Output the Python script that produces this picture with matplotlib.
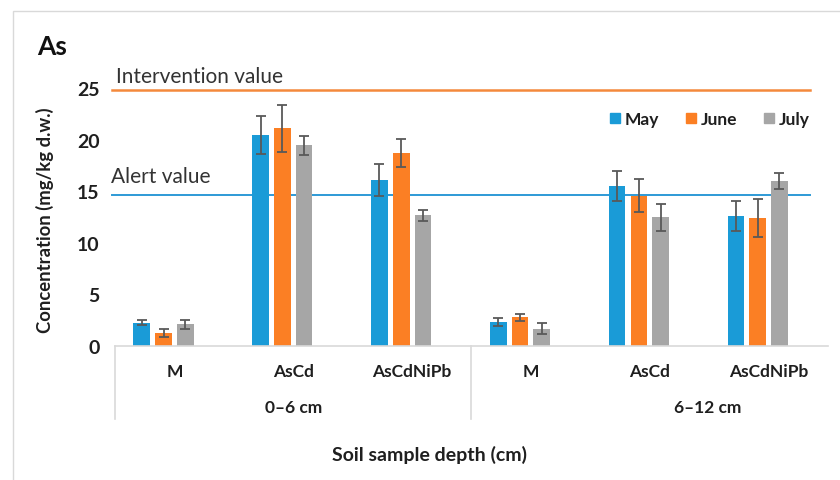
import matplotlib
matplotlib.use("Agg")
import matplotlib.pyplot as plt
from matplotlib.lines import Line2D
from matplotlib.patches import Rectangle
import numpy as np

plt.rcParams["font.family"] = ["Lato", "DejaVu Sans"]

# data
treatments = ["M", "AsCd", "AsCdNiPb", "M", "AsCd", "AsCdNiPb"]
depths = ["0\u20136 cm", "6\u201312 cm"]
months = ["May", "June", "July"]

may = [2.2, 20.5, 16.1, 2.3, 15.5, 12.6]
may_err = [0.25, 1.85, 1.55, 0.38, 1.5, 1.45]
june = [1.2, 21.1, 18.7, 2.75, 14.55, 12.35]
june_err = [0.37, 2.25, 1.37, 0.33, 1.6, 1.85]
july = [2.05, 19.45, 12.65, 1.65, 12.45, 16.0]
july_err = [0.42, 0.9, 0.55, 0.55, 1.3, 0.8]

alert_value = 14.6
intervention_value = 24.85

colors = ["#1a9bd7", "#fb7f24", "#a6a6a6"]
text_color = "#1f1f1f"

fig = plt.figure(figsize=(8.4, 4.81), dpi=100)
ax = fig.add_axes([0.1369, 0.2796, 0.8488, 0.5347])

x = np.arange(len(treatments))
step = 0.183
width = 0.14
# Excel-style cluster with an empty 4th slot, so bars sit left of the label
offsets = [-1.5 * step, -0.5 * step, 0.5 * step]
series = [(may, may_err), (june, june_err), (july, july_err)]
for (vals, errs), off, color, name in zip(series, offsets, colors, months):
    ax.bar(x + off, vals, width, color=color, label=name, zorder=2)
    ax.errorbar(x + off, vals, yerr=errs, fmt="none", ecolor="#595959",
                elinewidth=1.3, capsize=3.3, capthick=1.3, zorder=3)

ax.set_xlim(-0.5, len(treatments) - 0.5)
ax.set_ylim(0, 25)
ax.set_yticks([0, 5, 10, 15, 20, 25])
ax.tick_params(axis="y", length=0, pad=11, labelsize=14, labelcolor=text_color)
for lab in ax.get_yticklabels():
    lab.set_fontweight("bold")
ax.set_xticks([])
for side in ["left", "right", "top"]:
    ax.spines[side].set_visible(False)
ax.spines["bottom"].set_color("#d9d9d9")
ax.spines["bottom"].set_linewidth(1.2)

# reference lines
ax.axhline(intervention_value, xmin=-0.004, xmax=0.975, color="#f4893c",
           linewidth=1.8, clip_on=False, zorder=1)
ax.axhline(alert_value, xmin=-0.004, xmax=0.975, color="#2e9ad6",
           linewidth=1.4, clip_on=False, zorder=1)
ax.text(-0.495, intervention_value + 1.3, "Intervention value", fontsize=15,
        color="#333333", va="center", ha="left", clip_on=False)
ax.text(-0.535, alert_value + 1.9, "Alert value", fontsize=15,
        color="#333333", va="center", ha="left", clip_on=False)

# two-level category axis
tr = ax.get_xaxis_transform()
for xi, name in zip(x, treatments):
    ax.text(xi, -0.099, name, transform=tr, ha="center", va="center",
            fontsize=12.5, fontweight="bold", color=text_color)
ax.text(1.0, -0.241, depths[0], transform=tr, ha="center", va="center",
        fontsize=12.5, fontweight="bold", color=text_color)
ax.text(4.49, -0.241, depths[1], transform=tr, ha="center", va="center",
        fontsize=12.5, fontweight="bold", color=text_color)
for xv in [-0.5, 2.5]:
    ax.add_line(Line2D([xv, xv], [0, -0.286], transform=tr, color="#d9d9d9",
                       linewidth=1.2, clip_on=False))

fig.text(0.511, 1 - 455 / 481, "Soil sample depth (cm)", ha="center",
         va="center", fontsize=14, fontweight="bold", color=text_color)
fig.text(0.054, 1 - 220 / 481, "Concentration (mg/kg d.w.)", rotation=90,
         ha="center", va="center", fontsize=13.3, fontweight="bold", color=text_color)
fig.text(0.044, 1 - 47 / 481, "As", ha="left", va="center", fontsize=19,
         fontweight="bold", color="#111111")

handles = [Line2D([], [], marker="s", linestyle="none", markersize=7,
                  markerfacecolor=c, markeredgecolor=c) for c in colors]
leg = fig.legend(handles, months, loc="center", bbox_to_anchor=(0.845, 1 - 120 / 481),
                 ncol=3, frameon=False, handlelength=0.6, handletextpad=0.3,
                 columnspacing=1.5, prop={"weight": "bold", "size": 12.5})
for t in leg.get_texts():
    t.set_color(text_color)

# light chart-area border (runs off the right and bottom edges)
fig.add_artist(Rectangle((13 / 840, -0.05), 1.0, 1 - 12 / 481 + 0.05,
                         transform=fig.transFigure, fill=False,
                         edgecolor="#d9d9d9", linewidth=1.0))

fig.savefig("out.png", dpi=100)
